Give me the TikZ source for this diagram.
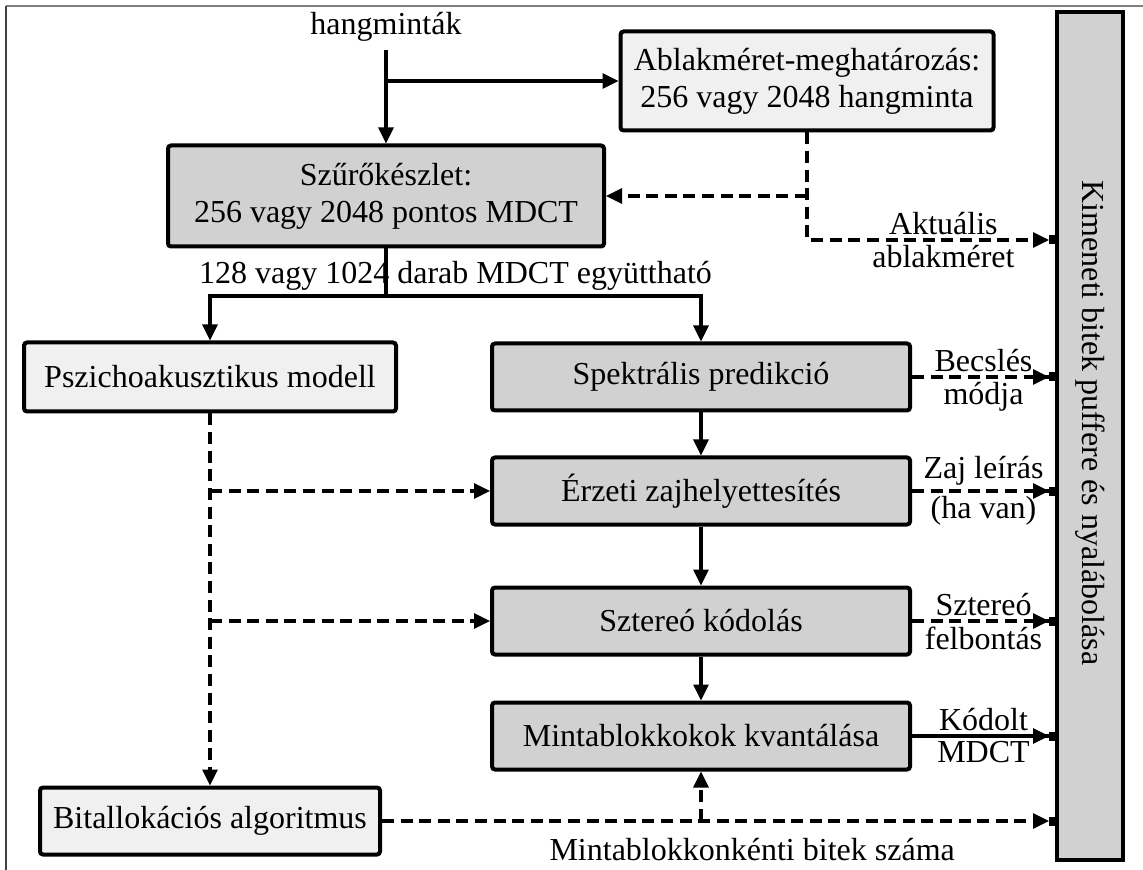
\documentclass[tikz,border=0pt]{standalone}
\usepackage{fontspec}
\setmainfont{Liberation Serif}
\usetikzlibrary{arrows.meta,positioning}

\definecolor{lightfill}{gray}{0.94}
\definecolor{darkfill}{gray}{0.82}

\begin{document}
\begin{tikzpicture}[x=0.5pt,y=-0.5pt,>={Triangle[length=8pt,width=7.5pt]},
                    line width=1.6pt,node distance=57pt,
                    font=\fontsize{16}{18.5}\selectfont]
  \tikzstyle{block}=[draw,line width=2pt,rounded corners=1.5pt,align=center,
                     minimum height=33.5pt]
  \tikzstyle{lightbox}=[block,fill=lightfill]
  \tikzstyle{darkbox}=[block,fill=darkfill,minimum width=209pt]
  \tikzstyle{ctrl}=[dash pattern=on 6pt off 3.3pt]
  \tikzstyle{tobar}=[-{Triangle[length=8pt,width=7.5pt]Square[length=3pt,width=4.5pt]}]
  \tikzstyle{note}=[inner sep=2pt]

  \useasboundingbox (0,0) rectangle (1143,870);
  \draw[gray,line width=1pt] (1143,6) -- (6,6);
  \draw[black!75,line width=1pt] (6,6) -- (6,870);

  \node                (hang)   at (386,27)  {hangminták};
  \node[darkbox,minimum width=218pt,minimum height=50.5pt]
                       (filt)   at (386,196) {Szűrőkészlet:\\256 vagy 2048 pontos MDCT};
  \node[lightbox,minimum width=186.5pt,minimum height=49.5pt]
                       (win)    at (807,81)  {Ablakméret-meghatározás:\\256 vagy 2048 hangminta};
  \node[lightbox,minimum width=186pt,minimum height=34.5pt]
                       (psy)    at (210,377) {Pszichoakusztikus modell};
  \node[darkbox]       (spec)   [right of=psy,node distance=245.5pt] {Spektrális predikció};
  \node[darkbox]       (noise)  [below of=spec]                      {Érzeti zajhelyettesítés};
  \node[darkbox]       (stereo) [below of=noise,node distance=65pt]  {Sztereó kódolás};
  \node[darkbox]       (quant)  [below of=stereo,node distance=57.5pt] {Mintablokkokok kvantálása};
  \node[lightbox,minimum width=170pt]
                       (bital)  [below of=psy,node distance=222pt]   {Bitallokációs algoritmus};
  \node[draw,line width=2pt,fill=darkfill,minimum width=33pt,minimum height=424pt]
                       (bar)    at (1090,436) {};
  \node[rotate=-90]    (bartxt) at (1090,423) {Kimeneti bitek puffere és nyalábolása};

  \coordinate (split) at (386,296);
  \coordinate (akt)   at (807,240);

  % main signal path
  \draw[->] (hang) -- (hang |- filt.north);
  \draw[->] (hang.south |- win.west) -- (win.west);
  \draw (filt) -- (split);
  \draw[->] (split) -| (psy);
  \draw[->] (split) -| (spec);
  \path (psy |- split) -- node[above,note] {128 vagy 1024 darab MDCT együttható} (spec |- split);
  \draw[->] (spec)   -- (noise);
  \draw[->] (noise)  -- (stereo);
  \draw[->] (stereo) -- (quant);

  % window size
  \draw[ctrl,tobar] (win) -- (akt) -- node[above,note,pos=0.55] {Aktuális}
                                      node[below,note,pos=0.55] {ablakméret} (akt -| bar.west);
  \draw[ctrl,->] (win.south |- filt.east) -- (filt.east);

  % psychoacoustic control
  \draw[ctrl,->] (psy) -- (bital);
  \draw[ctrl,->] (psy |- noise)  -- (noise);
  \draw[ctrl,->] (psy |- stereo) -- (stereo);
  \draw[ctrl,tobar] (bital) -- node[below=6pt,note,pos=0.55] {Mintablokkonkénti bitek száma} (bital -| bar.west);
  \draw[ctrl,->] (bital -| quant) -- (quant);

  % side information to the buffer
  \draw[ctrl,tobar] (spec)   -- node[above,note] {Becslés}    node[below,note] {módja}     (spec -| bar.west);
  \draw[ctrl,tobar] (noise)  -- node[above,note] {Zaj leírás} node[below,note] {(ha van)}  (noise -| bar.west);
  \draw[ctrl,tobar] (stereo) -- node[above,note] {Sztereó}    node[below,note] {felbontás} (stereo -| bar.west);
  \draw[tobar]      (quant)  -- node[above,note] {Kódolt}     node[below,note] {MDCT}      (quant -| bar.west);
\end{tikzpicture}
\end{document}
